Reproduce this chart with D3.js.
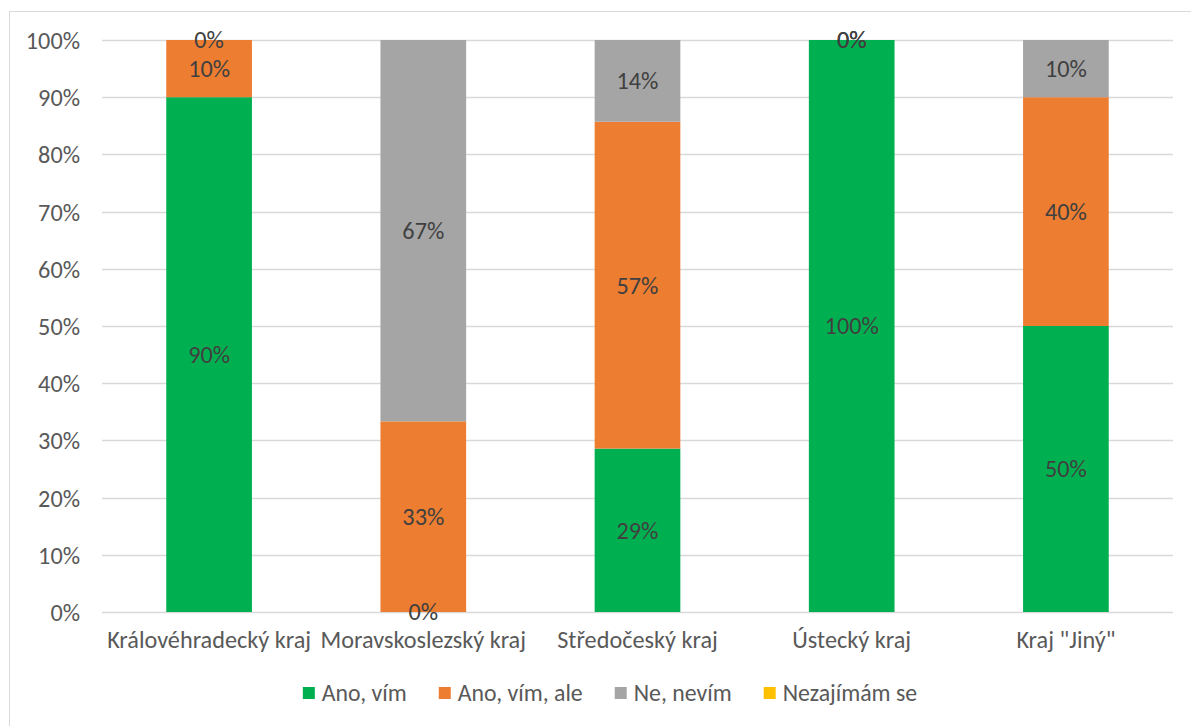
<!DOCTYPE html>
<html><head><meta charset="utf-8">
<script src="https://cdn.jsdelivr.net/npm/d3@7/dist/d3.min.js"></script>
<style>
body{margin:0;background:#fff;}
svg{display:block;font-family:Carlito,Calibri,Lato,"Open Sans",sans-serif;}
</style></head>
<body><svg id="c" width="1191" height="726"></svg>
<script>
const categories = ["Královéhradecký kraj","Moravskoslezský kraj","Středočeský kraj","Ústecký kraj","Kraj \"Jiný\""];
const seriesNames = ["Ano, vím","Ano, vím, ale","Ne, nevím","Nezajímám se"];
const seriesColors = ["#00b050","#ed7d31","#a5a5a5","#ffc000"];
const anoVim      = [0.9, 0,      0.2857, 1, 0.5];
const anoVimAle   = [0.1, 0.3333, 0.5714, 0, 0.4];
const neNevim     = [0,   0.6667, 0.1429, 0, 0.1];
const nezajimamSe = [null,null,   null,   null,null];
const yTicks = [0,0.1,0.2,0.3,0.4,0.5,0.6,0.7,0.8,0.9,1];

const seriesVals = [anoVim, anoVimAle, neNevim, nezajimamSe];
const svg = d3.select("#c");
const W = 1191, H = 726;
const m = {left:102, right:18, top:40, bottom:114};
const FONT = 'Carlito,Calibri,Lato,"Open Sans",sans-serif';

function measure(txt, size){
  const t = svg.append("text").attr("font-family",FONT).attr("font-size",size+"px").text(txt);
  const w = t.node().getComputedTextLength(); t.remove(); return w;
}
const axisFS = 20 * 204 / measure("Královéhradecký kraj", 20);
const legFS  = 20 * 125 / measure("Ano, vím, ale", 20);
const AFS = axisFS.toFixed(2)+"px", LFS = legFS.toFixed(2)+"px";

// chart frame
svg.append("rect").attr("x",9.5).attr("y",11.5).attr("width",W+20).attr("height",H+20)
  .attr("fill","#fff").attr("stroke","#d9d9d9").attr("stroke-width",1);

const x = d3.scaleBand().domain(categories).range([m.left, W-m.right]).paddingInner(0.6).paddingOuter(0.3);
const y = d3.scaleLinear().domain([0,1]).range([H-m.bottom, m.top]);

// gridlines
svg.append("g").selectAll("line").data(yTicks).join("line")
  .attr("x1",m.left).attr("x2",W-m.right)
  .attr("y1",d=>Math.round(y(d))+0.5).attr("y2",d=>Math.round(y(d))+0.5)
  .attr("stroke","#d9d9d9").attr("stroke-width",1.3);

// y axis labels
const yAxis = d3.axisLeft(y).tickValues(yTicks).tickFormat(d3.format(".0%")).tickSize(0).tickPadding(0);
const yg = svg.append("g").attr("transform","translate(80,0)").call(yAxis)
  .attr("font-family",FONT).attr("font-size",AFS);
yg.select(".domain").remove();
yg.selectAll("text").attr("fill","#595959").attr("dy","0.35em");

// stack
const rows = categories.map((c,i)=>{const o={cat:c}; seriesNames.forEach((s,j)=>o[s]=seriesVals[j][i]); return o;});
const stack = d3.stack().keys(seriesNames).value((d,k)=>d[k]==null?0:d[k]);
const stacked = stack(rows);

const gBars = svg.append("g");
stacked.forEach((layer,j)=>{
  gBars.append("g").attr("fill",seriesColors[j]).selectAll("rect").data(layer).join("rect")
    .attr("x",d=>x(d.data.cat)).attr("width",x.bandwidth())
    .attr("y",d=>y(d[1])).attr("height",d=>Math.max(0,y(d[0])-y(d[1])));
});

// labels
const gLab = svg.append("g").attr("font-family",FONT);
stacked.forEach((layer,j)=>{
  layer.forEach((d,i)=>{
    const v = seriesVals[j][i];
    if(v==null) return;
    gLab.append("text")
      .attr("x",x(d.data.cat)+x.bandwidth()/2)
      .attr("y",y((d[0]+d[1])/2))
      .attr("dy","0.35em")
      .attr("text-anchor","middle")
      .attr("fill","#404040").attr("font-size",AFS)
      .text(d3.format(".0%")(v));
  });
});

// x axis labels
const xAxis = d3.axisBottom(x).tickSize(0).tickPadding(0);
const xg = svg.append("g").attr("transform",`translate(0,${H-m.bottom})`).call(xAxis)
  .attr("font-family",FONT).attr("font-size",AFS);
xg.select(".domain").remove();
xg.selectAll("text").attr("fill","#595959").attr("y",28).attr("dy","0.35em");

// legend
const lg = svg.append("g").attr("font-family",FONT);
const items = seriesNames.map((s,j)=>{
  const g = lg.append("g");
  g.append("rect").attr("x",0).attr("y",-6).attr("width",12).attr("height",12).attr("fill",seriesColors[j]);
  const t = g.append("text").attr("x",19).attr("y",0).attr("dy","0.35em").attr("fill","#595959").attr("font-size",LFS).text(s);
  return {g, w:19+t.node().getComputedTextLength()};
});
const gap = 32;
const total = d3.sum(items,d=>d.w)+gap*(items.length-1);
let cx = 610 - total/2;
items.forEach(it=>{ it.g.attr("transform",`translate(${cx},693)`); cx += it.w+gap; });
</script></body></html>
